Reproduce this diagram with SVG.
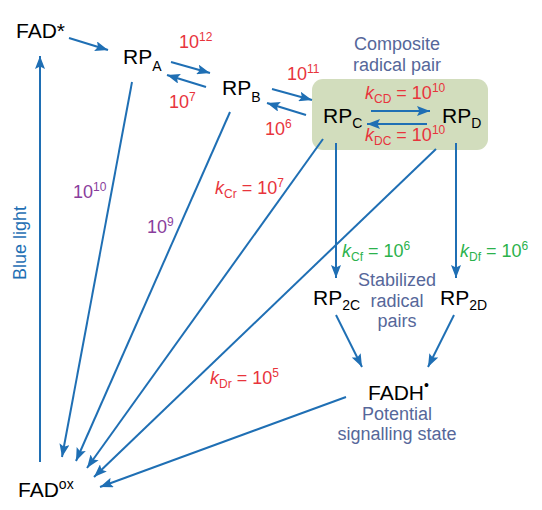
<svg xmlns="http://www.w3.org/2000/svg" width="542" height="510" viewBox="0 0 542 510">
<defs>
<marker id="ah" markerUnits="userSpaceOnUse" markerWidth="14" markerHeight="10" refX="13" refY="5" orient="auto">
<path d="M0,0 L13,5 L0,10 L2.5,5 z" fill="#1f6fb4"/>
</marker>
<style>
text{font-family:"Liberation Sans",Arial,sans-serif}
.n{font-size:21px;fill:#000}
.sb{font-size:14px}
.r{font-size:18px;fill:#e8343c}
.p{font-size:18px;fill:#8a3d9c}
.g{font-size:18px;fill:#2bb24c}
.s{font-size:18px;fill:#56679a;text-anchor:middle}
.sup{font-size:12px}
.sub{font-size:12px}
.k{font-style:italic}
.c{fill:none;stroke:#1f6fb4;stroke-width:2;marker-end:url(#ah)}
.l{fill:none;stroke:#1f6fb4;stroke-width:2}
</style>
</defs>
<rect id="box" x="312" y="79" width="176" height="71" rx="11" fill="#d2ddbd"/>
<g id="connectors">
<line class="c" x1="40" y1="462" x2="40" y2="56"/>
<line class="c" x1="69" y1="38" x2="108" y2="50"/>
<line class="c" x1="171" y1="62" x2="210" y2="73"/>
<line class="c" x1="206" y1="87" x2="167" y2="75"/>
<line class="c" x1="272" y1="89" x2="312" y2="100"/>
<line class="c" x1="306" y1="115" x2="267" y2="103"/>
<line class="c" x1="371" y1="111" x2="430" y2="111"/>
<line class="c" x1="427" y1="124" x2="367" y2="124"/>
<line class="c" x1="336" y1="143" x2="336" y2="278"/>
<line class="c" x1="456" y1="143" x2="456" y2="278"/>
<line class="c" x1="336" y1="315" x2="362" y2="367"/>
<line class="c" x1="454" y1="315" x2="428" y2="367"/>
<line class="c" x1="132" y1="82" x2="62" y2="457"/>
<line class="c" x1="230" y1="112" x2="76" y2="461"/>
<line class="c" x1="323" y1="139" x2="87" y2="468"/>
<line class="c" x1="436" y1="149" x2="94" y2="477"/>
<line class="c" x1="346" y1="397" x2="100" y2="487"/>
</g>
<g id="FADstar"><text class="n" x="16" y="38">FAD*</text></g>
<g id="RPA"><text class="n" x="123" y="64">RP<tspan class="sb" dy="7">A</tspan></text></g>
<g id="RPB"><text class="n" x="222" y="95">RP<tspan class="sb" dy="7">B</tspan></text></g>
<g id="RPC"><text class="n" x="323" y="123">RP<tspan class="sb" dy="5">C</tspan></text></g>
<g id="RPD"><text class="n" x="442" y="123">RP<tspan class="sb" dy="5">D</tspan></text></g>
<g id="RP2C"><text class="n" x="313" y="305">RP<tspan class="sb" dy="5">2C</tspan></text></g>
<g id="RP2D"><text class="n" x="440" y="305">RP<tspan class="sb" dy="5">2D</tspan></text></g>
<g id="FADH"><text class="n" x="368" y="400">FADH<tspan class="sb" dy="-10">•</tspan></text></g>
<g id="FADox"><text class="n" x="18" y="497">FAD<tspan class="sb" dy="-8">ox</tspan></text></g>
<g id="labels">
<text class="r" x="179" y="48">10<tspan class="sup" dy="-7">12</tspan></text>
<text class="r" x="169" y="108">10<tspan class="sup" dy="-7">7</tspan></text>
<text class="r" x="287" y="80">10<tspan class="sup" dy="-7">11</tspan></text>
<text class="r" x="265" y="135">10<tspan class="sup" dy="-7">6</tspan></text>
<text class="r" x="365" y="99"><tspan class="k">k</tspan><tspan class="sub" dy="4">CD</tspan><tspan dy="-4"> = 10</tspan><tspan class="sup" dy="-7">10</tspan></text>
<text class="r" x="365" y="141"><tspan class="k">k</tspan><tspan class="sub" dy="4">DC</tspan><tspan dy="-4"> = 10</tspan><tspan class="sup" dy="-7">10</tspan></text>
<text class="p" x="73" y="198">10<tspan class="sup" dy="-7">10</tspan></text>
<text class="p" x="147" y="233">10<tspan class="sup" dy="-7">9</tspan></text>
<text class="r" x="215" y="194"><tspan class="k">k</tspan><tspan class="sub" dy="4">Cr</tspan><tspan dy="-4"> = 10</tspan><tspan class="sup" dy="-7">7</tspan></text>
<text class="r" x="210" y="384"><tspan class="k">k</tspan><tspan class="sub" dy="4">Dr</tspan><tspan dy="-4"> = 10</tspan><tspan class="sup" dy="-7">5</tspan></text>
<text class="g" x="342" y="257"><tspan class="k">k</tspan><tspan class="sub" dy="4">Cf</tspan><tspan dy="-4"> = 10</tspan><tspan class="sup" dy="-7">6</tspan></text>
<text class="g" x="460" y="257"><tspan class="k">k</tspan><tspan class="sub" dy="4">Df</tspan><tspan dy="-4"> = 10</tspan><tspan class="sup" dy="-7">6</tspan></text>
<text class="s" x="397" y="50">Composite</text>
<text class="s" x="397" y="71">radical pair</text>
<text class="s" x="397" y="286">Stabilized</text>
<text class="s" x="397" y="307">radical</text>
<text class="s" x="397" y="327">pairs</text>
<text class="s" x="397" y="420">Potential</text>
<text class="s" x="397" y="440">signalling state</text>
<text x="26" y="243" transform="rotate(-90 26 243)" style="font-size:18px;fill:#1f6fb4;text-anchor:middle">Blue light</text>
</g>
</svg>
